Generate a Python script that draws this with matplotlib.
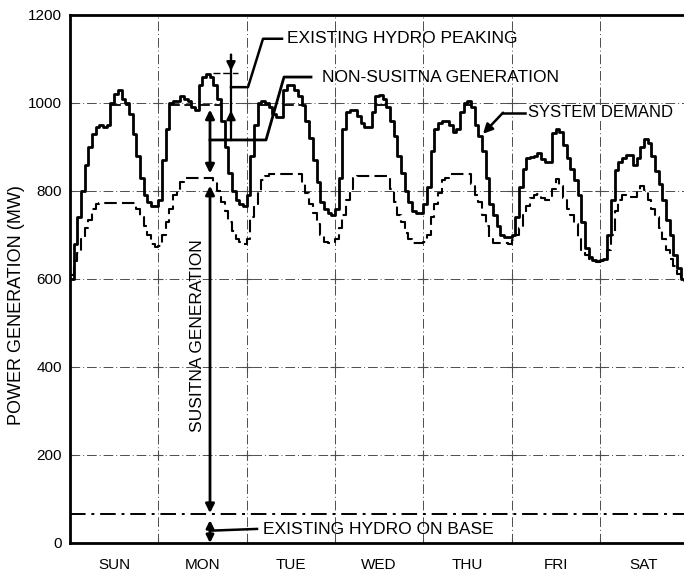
import numpy as np
import matplotlib
matplotlib.use("Agg")
import matplotlib.pyplot as plt

plt.rcParams["font.family"] = ["Liberation Sans", "DejaVu Sans"]

days = ["SUN", "MON", "TUE", "WED", "THU", "FRI", "SAT"]

# hourly system demand (MW), one list per day
demand_sun = [600, 680, 740, 800, 860, 900, 930, 945, 950, 945, 950, 1000,
              1020, 1030, 1010, 1000, 975, 930, 880, 830, 790, 775, 765, 765]
demand_mon = [780, 870, 940, 1000, 1005, 1005, 1015, 1010, 1005, 990, 985, 1040,
              1060, 1065, 1060, 1040, 1010, 960, 900, 840, 800, 780, 770, 765]
demand_tue = [790, 880, 950, 1000, 1005, 1000, 990, 975, 968, 968, 1030, 1042,
              1042, 1030, 1015, 995, 960, 920, 870, 820, 775, 760, 750, 745]
demand_wed = [760, 830, 940, 980, 985, 985, 970, 955, 945, 945, 980, 1015,
              1018, 1010, 990, 960, 925, 880, 840, 800, 775, 755, 750, 750]
demand_thu = [770, 810, 890, 940, 955, 960, 960, 950, 935, 940, 980, 1000,
              1005, 990, 950, 925, 890, 830, 770, 745, 720, 700, 695, 695]
demand_fri = [700, 740, 810, 850, 875, 877, 880, 886, 872, 866, 866, 932,
              940, 935, 905, 875, 850, 825, 790, 730, 670, 650, 643, 640]
demand_sat = [643, 645, 700, 780, 848, 865, 875, 882, 882, 860, 875, 900,
              918, 910, 880, 845, 815, 780, 735, 700, 655, 625, 600]

# hourly non-Susitna level (dashed), MW
lower_sun = [610, 640, 660, 690, 715, 735, 760, 770, 772, 772, 772, 772,
             772, 772, 772, 772, 772, 772, 760, 740, 720, 700, 680, 672]
lower_mon = [675, 700, 730, 760, 790, 800, 820, 830, 830, 830, 830, 830,
             830, 830, 830, 820, 800, 775, 755, 730, 710, 690, 683, 680]
lower_tue = [690, 740, 770, 800, 825, 835, 838, 838, 838, 838, 838, 838,
             838, 838, 838, 815, 795, 770, 750, 725, 700, 685, 682, 682]
lower_wed = [690, 715, 745, 780, 805, 830, 835, 835, 835, 835, 835, 835,
             835, 835, 835, 805, 775, 745, 730, 705, 690, 682, 682, 682]
lower_thu = [685, 700, 740, 770, 795, 825, 830, 838, 838, 838, 838, 838,
             838, 815, 790, 775, 745, 720, 690, 682, 682, 682, 682, 680]
lower_fri = [688, 700, 715, 745, 765, 785, 791, 793, 785, 780, 780, 805,
             828, 812, 785, 760, 745, 725, 690, 667, 655, 645, 640, 638]
lower_sat = [640, 645, 665, 700, 755, 780, 792, 790, 786, 786, 800, 812,
             803, 780, 760, 740, 715, 690, 665, 645, 630, 612, 595]

hydro_base = 65      # MW
peak_cap = 995       # MW

demand = np.array(demand_sun + demand_mon + demand_tue + demand_wed +
                  demand_thu + demand_fri + demand_sat, dtype=float)
lower = np.array(lower_sun + lower_mon + lower_tue + lower_wed +
                 lower_thu + lower_fri + lower_sat, dtype=float)
t = np.arange(len(demand) + 1) / 24.0
demand_s = np.append(demand, demand[-1])
lower_s = np.append(lower, lower[-1])
capped = np.where(demand_s > peak_cap, peak_cap, np.nan)

fig = plt.figure(figsize=(6.84, 5.74), dpi=100)
ax = fig.add_axes([70 / 684, 31 / 574, 614 / 684, 528 / 574])
xmax = 614 / 88.3
ax.set_xlim(0, xmax)
ax.set_ylim(0, 1200)

# grid
gcol = "0.3"
for d in range(1, 7):
    ax.plot([d, d], [0, 1200], color=gcol, lw=0.7, ls=(0, (10, 3, 1, 3)), zorder=1)
for v in range(200, 1200, 200):
    ax.plot([0, xmax], [v, v], color=gcol, lw=0.7, ls=(0, (10, 3, 1, 3)), zorder=1)
gx, gy = np.meshgrid(np.arange(0, 7), np.arange(0, 1200, 200))
ax.plot(gx.ravel(), gy.ravel(), "+", color=gcol, ms=7, mew=0.8, zorder=1)

# existing hydro on base
ax.plot([0, xmax], [hydro_base, hydro_base], color="k", lw=1.4,
        ls=(0, (8, 3, 1.5, 3)), zorder=2)

ax.step(t, demand_s, where="post", color="k", lw=2.0, zorder=4)
ax.step(t, lower_s, where="post", color="k", lw=1.5, ls=(0, (6, 2.5)), zorder=3)
ax.step(t, capped, where="post", color="k", lw=1.3, ls=(0, (6, 2.5)), zorder=3)

for s in ["left", "bottom", "top"]:
    ax.spines[s].set_linewidth(2)
ax.spines["right"].set_visible(False)

ax.set_yticks(range(0, 1201, 200))
ax.set_yticklabels([str(v) for v in range(0, 1201, 200)], fontsize=11)
ax.set_xticks(np.arange(7) + 0.5)
ax.set_xticklabels(days, fontsize=11)
ax.tick_params(length=0, pad=6)
ax.tick_params(axis="x", pad=11)

fig.text(17 / 684, 1 - 305 / 574, "POWER GENERATION (MW)", rotation=90,
         ha="center", va="center", fontsize=13)

# annotations
fs = 12.5
x1 = 140 / 88.3
x2 = 161 / 88.3
aprops = dict(arrowstyle="<|-|>", color="k", lw=2, mutation_scale=13,
              shrinkA=0, shrinkB=0)
ax.annotate("", xy=(x1, 68), xytext=(x1, 812), arrowprops=aprops, zorder=5)
ax.annotate("", xy=(x1, 840), xytext=(x1, 985), arrowprops=aprops, zorder=5)
ax.annotate("", xy=(x1, 0), xytext=(x1, 52),
            arrowprops=dict(aprops, mutation_scale=11), zorder=5)
ax.plot([x2, x2], [916, 1110], color="k", lw=1.6, zorder=5)
ax.annotate("", xy=(x2, 1073), xytext=(x2, 1110),
            arrowprops=dict(arrowstyle="-|>", color="k", lw=1.6,
                            mutation_scale=13, shrinkA=0, shrinkB=0), zorder=5)
ax.annotate("", xy=(x2, 983), xytext=(x2, 950),
            arrowprops=dict(arrowstyle="-|>", color="k", lw=1.6,
                            mutation_scale=13, shrinkA=0, shrinkB=0), zorder=5)
ax.plot([143 / 88.3, 168 / 88.3], [1068, 1068], color="k", lw=1.0,
        ls=(0, (5, 2)), zorder=5)

ax.plot([x1, 196 / 88.3, 214 / 88.3, 241 / 88.3], [916, 916, 1059, 1059],
        color="k", lw=2, zorder=5)
ax.text(252 / 88.3, 1059, "NON-SUSITNA GENERATION", fontsize=fs,
        va="center", ha="left")
ax.plot([x2, 178 / 88.3, 193 / 88.3, 212 / 88.3], [1036, 1036, 1146, 1146],
        color="k", lw=1.8, zorder=5)
ax.text(217 / 88.3, 1146, "EXISTING HYDRO PEAKING", fontsize=fs,
        va="center", ha="left")
ax.plot([x1, 187 / 88.3], [28, 32], color="k", lw=1.8, zorder=5)
ax.text(193 / 88.3, 30, "EXISTING HYDRO ON BASE", fontsize=fs,
        va="center", ha="left")
ax.annotate("", xy=(413 / 88.3, 930), xytext=(433 / 88.3, 978),
            arrowprops=dict(arrowstyle="-|>", color="k", lw=1.8,
                            mutation_scale=14, shrinkA=0, shrinkB=0), zorder=5)
ax.plot([433 / 88.3, 455 / 88.3], [978, 978], color="k", lw=1.8, zorder=5)
ax.text(458 / 88.3, 978, "SYSTEM DEMAND", fontsize=12, va="center", ha="left",
        bbox=dict(facecolor="white", edgecolor="none", pad=0.5), zorder=6)
ax.text(127 / 88.3, 472, "SUSITNA GENERATION", fontsize=fs, rotation=90,
        ha="center", va="center")

fig.savefig("out.png", dpi=100)
